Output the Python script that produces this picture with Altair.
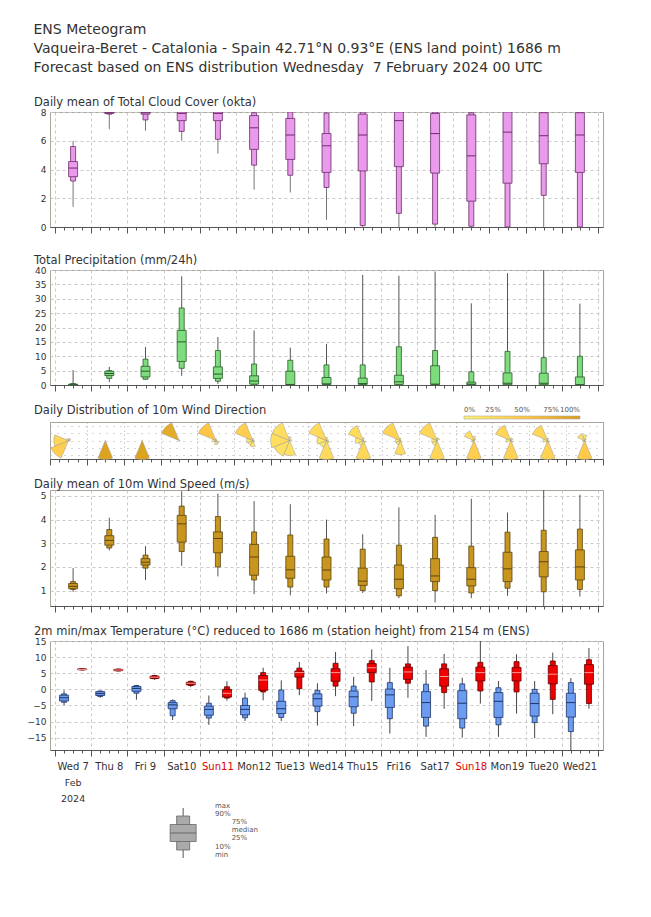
import altair as alt
import pandas as pd

# ---------------- data ----------------
day_labels = ["Wed 7", "Thu 8", "Fri 9", "Sat10", "Sun11", "Mon12", "Tue13", "Wed14",
              "Thu15", "Fri16", "Sat17", "Sun18", "Mon19", "Tue20", "Wed21"]
red_days = ["Sun11", "Sun18"]
month_label = "Feb"
year_label = "2024"

cloud_min = [1.4, 6.8, 6.7, 6.0, 5.1, 2.6, 2.4, 0.5, 0.0, 0.0, 0.0, 0.0, 0.0, 0.0, 0.0]
cloud_p10 = [3.2, 7.85, 7.45, 6.65, 6.1, 4.3, 3.6, 2.75, 0.1, 0.95, 0.2, 0.05, 0.0, 2.2, 0.0]
cloud_p25 = [3.5, 7.9, 7.85, 7.4, 7.4, 5.4, 4.7, 3.8, 3.9, 4.2, 3.75, 1.8, 3.05, 4.4, 3.8]
cloud_med = [4.1, 7.95, 7.95, 7.9, 7.9, 6.9, 6.4, 5.65, 6.4, 7.4, 6.5, 4.95, 6.6, 6.35, 6.4]
cloud_p75 = [4.55, 8, 8, 8, 8, 7.75, 7.55, 6.5, 7.85, 8, 7.9, 7.8, 8, 7.95, 7.95]
cloud_p90 = [5.6, 8, 8, 8, 8, 7.95, 8, 7.93, 8, 8, 8, 7.95, 8, 8, 8]
cloud_max = [6.0, 8, 8, 8, 8, 8, 8, 8, 8, 8, 8, 8, 8, 8, 8]

precip_min = [0, 1.0, 1.8, 3.2, 0.4, 0, 0, 0, 0, 0, 0, 0, 0, 0, 0]
precip_p10 = [0, 2.3, 2.0, 5.8, 1.3, 0, 0, 0, 0, 0, 0, 0, 0, 0, 0]
precip_p25 = [0, 3.3, 2.8, 8.2, 2.3, 0.3, 0.1, 0.2, 0.2, 0.2, 0.2, 0.1, 0.1, 0.1, 0.1]
precip_med = [0.1, 4.0, 4.8, 15.0, 3.8, 1.4, 0.2, 0.4, 0.5, 1.1, 0.3, 0.3, 0.6, 0.6, 0.1]
precip_p75 = [0.3, 4.8, 6.5, 19.0, 6.3, 3.2, 4.8, 2.6, 2.4, 3.4, 6.7, 1.0, 4.2, 4.1, 2.8]
precip_p90 = [0.5, 5.0, 9.0, 26.8, 12.0, 7.3, 8.6, 7.0, 7.0, 13.3, 12.0, 4.6, 11.7, 9.5, 10.0]
precip_max = [5.2, 6.3, 13.2, 37.8, 16.7, 19.0, 13.0, 14.3, 38.3, 38.0, 39.5, 28.4, 38.9, 40.0, 28.3]

# wind direction frequencies per day, sectors N, NE, E, SE, S, SW, W, NW
wind_sectors = ["N", "NE", "E", "SE", "S", "SW", "W", "NW"]
wind_freq = [
    [0.03, 0.06, 0.04, 0.02, 0.0, 0.45, 0.35, 0.05],
    [0.02, 0.0, 0.0, 0.0, 0.98, 0.0, 0.0, 0.0],
    [0.03, 0.0, 0.0, 0.0, 0.97, 0.0, 0.0, 0.0],
    [0.04, 0.0, 0.03, 0.05, 0.0, 0.0, 0.0, 0.88],
    [0.05, 0.0, 0.03, 0.1, 0.12, 0.05, 0.1, 0.55],
    [0.05, 0.0, 0.03, 0.05, 0.15, 0.12, 0.15, 0.45],
    [0.05, 0.0, 0.03, 0.0, 0.2, 0.22, 0.25, 0.25],
    [0.05, 0.0, 0.03, 0.05, 0.3, 0.12, 0.15, 0.3],
    [0.05, 0.0, 0.0, 0.05, 0.35, 0.1, 0.15, 0.3],
    [0.05, 0.0, 0.0, 0.05, 0.3, 0.1, 0.1, 0.4],
    [0.05, 0.05, 0.0, 0.0, 0.35, 0.1, 0.1, 0.35],
    [0.1, 0.05, 0.0, 0.0, 0.45, 0.05, 0.05, 0.25],
    [0.05, 0.05, 0.0, 0.05, 0.4, 0.0, 0.1, 0.35],
    [0.05, 0.0, 0.0, 0.05, 0.4, 0.05, 0.1, 0.35],
    [0.15, 0.05, 0.0, 0.05, 0.5, 0.0, 0.05, 0.2],
]

ws_min = [0.95, 2.7, 1.45, 2.05, 1.6, 0.85, 0.8, 0.88, 0.9, 0.68, 0.5, 0.68, 0.78, 0.3, 0.75]
ws_p10 = [1.05, 2.8, 1.95, 2.65, 2.0, 1.45, 1.15, 1.15, 1.0, 0.78, 1.0, 0.9, 1.1, 0.95, 1.05]
ws_p25 = [1.08, 2.92, 2.08, 3.05, 2.6, 1.65, 1.52, 1.45, 1.22, 1.08, 1.38, 1.2, 1.38, 1.58, 1.45]
ws_med = [1.18, 3.12, 2.2, 3.82, 3.2, 2.42, 1.88, 1.87, 1.4, 1.48, 1.62, 1.48, 1.92, 2.22, 2.0]
ws_p75 = [1.3, 3.32, 2.35, 4.18, 3.48, 2.95, 2.45, 2.42, 1.95, 2.08, 2.35, 1.97, 2.62, 2.65, 2.72]
ws_p90 = [1.38, 3.58, 2.5, 4.57, 4.13, 3.48, 3.35, 3.18, 2.75, 2.92, 3.25, 2.88, 3.47, 3.55, 3.6]
ws_max = [1.95, 4.08, 2.88, 5.2, 5.1, 4.78, 4.65, 4.0, 3.38, 4.52, 4.2, 4.88, 4.3, 5.4, 5.05]

tn_min = [-4.9, -2.6, -3.2, -9.5, -11.0, -9.8, -9.8, -11.2, -11.4, -13.7, -14.7, -15.0, -14.7, -15.1, -19.5]
tn_p10 = [-4.0, -2.2, -1.2, -8.2, -8.9, -8.8, -8.7, -6.9, -7.4, -9.1, -11.4, -12.0, -11.0, -10.3, -13.1]
tn_p25 = [-3.6, -1.9, -0.6, -6.0, -8.0, -7.9, -7.5, -5.2, -5.4, -5.6, -8.7, -9.1, -8.7, -8.3, -8.6]
tn_med = [-2.6, -1.3, 0.3, -4.8, -6.2, -6.2, -6.0, -2.9, -2.3, -1.7, -4.1, -4.3, -3.7, -4.4, -4.1]
tn_p75 = [-1.8, -0.7, 0.9, -4.1, -5.2, -5.0, -3.7, -1.4, -0.5, 0.1, -0.7, -0.4, -1.0, -1.2, -1.2]
tn_p90 = [-1.4, -0.5, 1.2, -3.5, -4.3, -2.7, -0.2, -0.3, 1.0, 2.1, 1.6, 1.7, 0.5, 0.0, 2.1]
tn_max = [-0.3, -0.4, 1.4, -3.1, -1.9, -1.0, 2.8, 1.9, 3.9, 6.7, 6.0, 3.6, 2.6, 2.6, 3.5]

tx_min = [5.9, 5.6, 3.0, 0.7, -3.5, -3.4, -1.8, -2.1, -3.6, -2.6, -6.0, -4.4, -7.5, -7.7, -6.0]
tx_p10 = [6.0, 5.7, 3.3, 1.2, -2.7, -0.8, 0.2, 1.0, 2.3, 1.9, -1.0, -0.5, -0.8, -3.1, -4.4]
tx_p25 = [6.1, 5.8, 3.4, 1.4, -2.4, -0.3, 3.8, 2.5, 5.2, 3.1, 1.0, 2.6, 2.6, 1.7, 1.6]
tx_med = [6.2, 6.0, 3.8, 1.9, -1.2, 2.9, 5.2, 5.2, 6.7, 5.4, 4.0, 5.2, 5.2, 4.7, 5.2]
tx_p75 = [6.35, 6.2, 4.1, 2.2, 0.0, 4.3, 5.7, 6.4, 8.0, 6.9, 6.4, 6.9, 6.8, 7.4, 7.7]
tx_p90 = [6.4, 6.3, 4.3, 2.5, 0.8, 5.2, 6.6, 8.1, 8.9, 7.9, 7.9, 8.4, 8.6, 8.8, 9.2]
tx_max = [6.5, 6.4, 4.5, 2.7, 2.5, 6.7, 8.5, 11.6, 12.4, 13.4, 11.0, 15.2, 10.9, 11.4, 12.8]

legend_stats = {"mn": 0, "p10": 8, "p25": 16.5, "med": 25, "p75": 33.5, "p90": 42, "mx": 50}
legend_texts = ["max", "90%", "75%", "median", "25%", "10%", "min"]
legend_text_pos = [52, 44, 36, 28, 20, 11, 3]
legend_text_col = [0, 0, 1, 1, 1, 0, 0]

header = ["ENS Meteogram",
          "Vaqueira-Beret - Catalonia - Spain 42.71\u00b0N 0.93\u00b0E (ENS land point) 1686 m",
          "Forecast based on ENS distribution Wednesday \u00a07 February 2024 00 UTC"]

# ---------------- helpers ----------------
FONT = "DejaVu Sans"
W = 553
NDAYS = len(day_labels)
xscale = alt.Scale(domain=[0, NDAYS], nice=False, zero=False)
tick_vals = [i / 4 for i in range(NDAYS * 4 + 1)]
MAJOR = "datum.value % 1 === 0"


def xaxis(dash=(3, 3), color="#c8c8c8"):
    return alt.Axis(values=tick_vals, labels=False, title=None, grid=True,
                    gridDash=list(dash), gridColor=color,
                    gridOpacity={"condition": {"test": MAJOR, "value": 1}, "value": 0},
                    tickSize={"condition": {"test": MAJOR, "value": 6}, "value": 3},
                    tickColor="#555", domainColor="#555", minExtent=6, maxExtent=6)


def yaxis(vals, labels=True, dash=(3, 3), color="#c8c8c8"):
    return alt.Axis(values=vals, title=None, grid=True, gridDash=list(dash), gridColor=color,
                    domain=False, ticks=False, labels=labels, labelFontSize=9,
                    labelOverlap=False, labelBound=False, labelFlush=False, labelSeparation=0,
                    labelColor="#333", labelPadding=4, minExtent=22, maxExtent=22)


def stats_df(mn, p10, p25, med, p75, p90, mx, off):
    return pd.DataFrame({"x": [i + off for i in range(len(mn))], "mn": mn, "p10": p10,
                         "p25": p25, "med": med, "p75": p75, "p90": p90, "mx": mx})


def box_layers(df, fill, stroke, ydom, yvals, medcolor, whisk="#555", wide=9, narrow=5):
    ys = alt.Scale(domain=ydom, nice=False, zero=False)
    X = alt.X("x:Q", scale=xscale, axis=xaxis())
    Yax = yaxis(yvals)
    base = alt.Chart(df)
    whisker = base.mark_rule(color=whisk, strokeWidth=1, clip=True).encode(
        x=X, y=alt.Y("mn:Q", scale=ys, axis=Yax), y2="mx:Q")
    nb = base.mark_bar(size=narrow, fill=fill, stroke=stroke, strokeWidth=0.8, clip=True).encode(
        x=X, y=alt.Y("p10:Q", scale=ys, axis=Yax), y2="p90:Q")
    wb = base.mark_bar(size=wide, fill=fill, stroke=stroke, strokeWidth=0.8, clip=True).encode(
        x=X, y=alt.Y("p25:Q", scale=ys, axis=Yax), y2="p75:Q")
    md = base.mark_tick(orient="horizontal", size=wide, thickness=1, color=medcolor,
                        opacity=1, clip=True).encode(x=X, y=alt.Y("med:Q", scale=ys, axis=Yax))
    return [whisker, nb, wb, md]


def ptitle(text):
    return alt.TitleParams(text=text, anchor="start", frame="group", fontSize=11.5, font=FONT,
                           color="#333", fontWeight="normal", offset=0, dx=-16)


# ---------------- cloud ----------------
cloud_df = stats_df(cloud_min, cloud_p10, cloud_p25, cloud_med, cloud_p75, cloud_p90, cloud_max, 0.5)
cloud = alt.layer(*box_layers(cloud_df, "#ea9aea", "#6b2d6b", [0, 8], [0, 2, 4, 6, 8], "#6b2d6b",
                              whisk="#777")).properties(
    width=W, height=115, title=ptitle("Daily mean of Total Cloud Cover (okta)"))

# ---------------- precipitation ----------------
precip_df = stats_df(precip_min, precip_p10, precip_p25, precip_med, precip_p75, precip_p90, precip_max, 0.5)
precip = alt.layer(*box_layers(precip_df, "#7ddd7d", "#2d5a2d", [0, 40], list(range(0, 41, 5)),
                               "#2d5a2d", whisk="#555")).properties(
    width=W, height=115, title=ptitle("Total Precipitation (mm/24h)"))

# ---------------- wind direction ----------------
rows = []
for d, fs in enumerate(wind_freq):
    for k, f in enumerate(fs):
        if f > 0:
            t1 = (k * 45 - 22.5) % 360
            rows.append({"x": d + 0.5, "lvl": 0, "sector": wind_sectors[k],
                         "t1": t1, "t2": t1 + 45, "f": f})
wind_df = pd.DataFrame(rows)

wind = alt.Chart(wind_df).transform_joinaggregate(
    fmax="max(f)", groupby=["x"]
).transform_calculate(
    r="datum.f / datum.fmax"
).mark_arc(stroke="#999", strokeWidth=0.5).encode(
    x=alt.X("x:Q", scale=xscale, axis=xaxis(dash=(1, 3), color="#aaa")),
    y=alt.Y("lvl:Q", scale=alt.Scale(domain=[-1, 1], nice=False),
            axis=yaxis([-0.8, -0.4, 0, 0.4, 0.8], labels=False, dash=(1, 6), color="#aaa")),
    theta=alt.Theta("t1:Q", scale=alt.Scale(domain=[0, 360], range=[0, 6.283185]), stack=None),
    theta2="t2:Q",
    radius=alt.Radius("r:Q", scale=alt.Scale(type="linear", domain=[0, 1], range=[0, 19], zero=True)),
    color=alt.Color("f:Q", scale=alt.Scale(domain=[0, 1], range=["#ffffff", "#d9a11c"]),
                    legend=alt.Legend(orient="none", legendX=414, legendY=-6, direction="horizontal",
                                      gradientLength=116, gradientThickness=3, title=None,
                                      values=[0, 0.25, 0.5, 0.75, 1], format=".0%",
                                      labelFontSize=7, labelColor="#555", labelOffset={"expr": "-13"},
                                      gradientStrokeColor="#999", gradientStrokeWidth=0.5)),
).properties(width=W, height=37, title=ptitle("Daily Distribution of 10m Wind Direction"))

# ---------------- wind speed ----------------
ws_df = stats_df(ws_min, ws_p10, ws_p25, ws_med, ws_p75, ws_p90, ws_max, 0.5)
speed = alt.layer(*box_layers(ws_df, "#c8961e", "#5c4510", [0.35, 5.25], [1, 2, 3, 4, 5],
                              "#5c4510", whisk="#555")).properties(
    width=W, height=116, title=ptitle("Daily mean of 10m Wind Speed (m/s)"))

# ---------------- temperature ----------------
TH = 109
tdom = [-18.8, 15]
tvals = [15, 10, 5, 0, -5, -10, -15]
tn_df = stats_df(tn_min, tn_p10, tn_p25, tn_med, tn_p75, tn_p90, tn_max, 0.25)
tx_df = stats_df(tx_min, tx_p10, tx_p25, tx_med, tx_p75, tx_p90, tx_max, 0.75)
lab_df = pd.DataFrame({"x": [i + 0.5 for i in range(NDAYS)], "label": day_labels})
my_df = pd.DataFrame({"x": [0.5], "month": [month_label], "year": [year_label]})

Xb = alt.X("x:Q", scale=xscale, axis=xaxis())
day_text = alt.Chart(lab_df).mark_text(font=FONT, fontSize=10, baseline="middle").encode(
    x=Xb, y=alt.value(TH + 17), text="label:N",
    color=alt.condition(alt.FieldOneOfPredicate(field="label", oneOf=red_days),
                        alt.value("#e00000"), alt.value("#333")))
month_text = alt.Chart(my_df).mark_text(font=FONT, fontSize=9.5, baseline="middle", color="#333").encode(
    x=Xb, y=alt.value(TH + 33), text="month:N")
year_text = alt.Chart(my_df).mark_text(font=FONT, fontSize=9.5, baseline="middle", color="#333").encode(
    x=Xb, y=alt.value(TH + 49), text="year:N")

temp_main = alt.layer(
    *box_layers(tn_df, "#6c9cf0", "#1f3366", tdom, tvals, "#1f3366", whisk="#444"),
    *box_layers(tx_df, "#f00000", "#600000", tdom, tvals, "#ff9a9a", whisk="#444"),
    day_text, month_text, year_text)

# legend diagram (box-plot key) below the temperature panel
LEGEND_X = 3.54
TEXT_X = [4.42, 4.88]
leg_df = pd.DataFrame({k: [v] for k, v in legend_stats.items()})
leg_df["x"] = LEGEND_X
legt_df = pd.DataFrame({"label": legend_texts, "v": legend_text_pos,
                        "x": [TEXT_X[c] for c in legend_text_col]})
lys = alt.Scale(domain=[0, 50], range=[TH + 108, TH + 58])
lbase = alt.Chart(leg_df)
Xl = alt.X("x:Q", scale=xscale, axis=xaxis())
leg_layers = alt.layer(
    lbase.mark_rule(color="#555").encode(x=Xl, y=alt.Y("mn:Q", scale=lys, axis=None), y2="mx:Q"),
    lbase.mark_bar(size=13, fill="#aaaaaa", stroke="#666", strokeWidth=0.8).encode(
        x=Xl, y=alt.Y("p10:Q", scale=lys, axis=None), y2="p90:Q"),
    lbase.mark_bar(size=26, fill="#aaaaaa", stroke="#666", strokeWidth=0.8).encode(
        x=Xl, y=alt.Y("p25:Q", scale=lys, axis=None), y2="p75:Q"),
    lbase.mark_tick(orient="horizontal", size=26, thickness=1, color="#666", opacity=1).encode(
        x=Xl, y=alt.Y("med:Q", scale=lys, axis=None)),
    alt.Chart(legt_df).mark_text(font=FONT, fontSize=7, align="left", baseline="middle", color="#555").encode(
        x=Xl, y=alt.Y("v:Q", scale=lys, axis=None), text="label:N"),
)

temp = alt.layer(temp_main, leg_layers).resolve_scale(y="independent").properties(
    width=W, height=TH,
    title=ptitle("2m min/max Temperature (\u00b0C) reduced to 1686 m (station height) from 2154 m (ENS)"))

# ---------------- assemble ----------------
inner = alt.vconcat(precip, wind, speed, temp, spacing=12).resolve_legend(color="independent")
chart = alt.vconcat(cloud, inner, spacing=20).resolve_legend(color="independent").properties(
    title=alt.TitleParams(text=header, anchor="start", fontSize=14, lineHeight=19, font=FONT,
                          fontWeight="normal", color="#333", offset=21, dx=7),
    padding={"left": 18, "top": 15, "right": 10, "bottom": 10},
).configure(font=FONT).configure_view(stroke="#aaa39a", strokeWidth=1).configure_axisY(
    labelOverlap=False, labelBound=False, labelFlush=False
)

chart.save("out.html", embed_options={"renderer": "svg", "actions": False})
